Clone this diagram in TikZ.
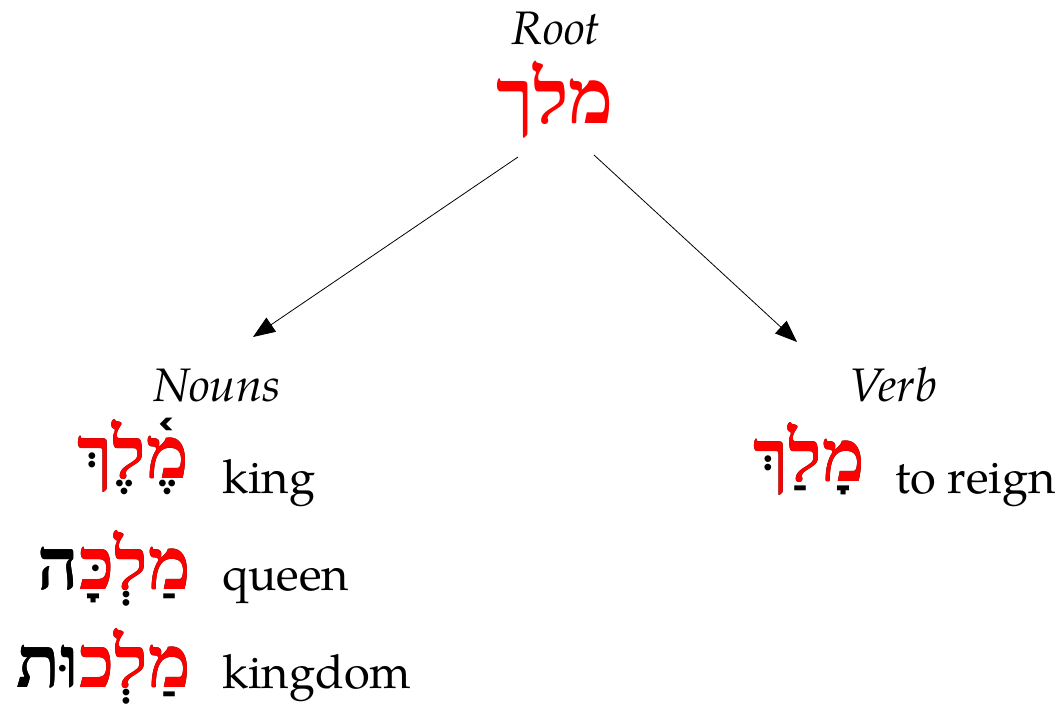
\documentclass[tikz,border=0pt]{standalone}
\usepackage{fontspec}
\setmainfont{TeX Gyre Pagella}
\newfontfamily\hebrewfont[Script=Hebrew]{Liberation Serif}
\usetikzlibrary{arrows.meta}

\tikzset{
  heading/.style={font=\fontsize{47}{50}\selectfont\itshape, anchor=base, inner sep=0pt},
  gloss/.style={font=\fontsize{47}{50}\selectfont, anchor=base west, inner sep=0pt},
  hebword/.style={font=\hebrewfont\bfseries\fontsize{72}{76}\selectfont, anchor=base east, inner sep=0pt},
  branch/.style={line width=0.8pt, -{Triangle[length=22pt,width=17pt]}},
}

% A pointed word: the full word with its vowel points in black,
% then its consonants (root letters in red) laid over it.
\newcommand\pointed[4]{%
  \node[hebword] (#1) at (#2) {#3};
  \node[hebword] at (#2) {#4};
}

\begin{document}
\begin{tikzpicture}[x=1pt,y=-1pt]
\useasboundingbox (0,0) rectangle (1064,717);

% root
\node[heading] (roottitle) at (556,45) {Root};
\node[hebword, anchor=base, text=red, font=\hebrewfont\bfseries\fontsize{76}{80}\selectfont] (root) at (555,123) {מלך};

% categories
\node[heading] (nouns) at (217,401) {Nouns};
\node[heading] (verb) at (893,401) {Verb};

\coordinate (rootL) at (518,157);
\coordinate (rootR) at (594,155);
\coordinate (nounsTop) at (253,337);
\coordinate (verbTop) at (797,342);
\draw[branch] (rootL) -- (nounsTop);
\draw[branch] (rootR) -- (verbTop);

% nouns
\pointed{king}{189,478}{מ^^^^05b6^^^^05abל^^^^05b6ך^^^^05b0}{\textcolor{red}{מלך}}
\node[gloss] (kingtxt) at (222,493) {king};

\pointed{queen}{191,589}{מ^^^^05b7ל^^^^05b0כ^^^^05bc^^^^05b8ה}{ה\textcolor{red}{מלכ}}
\node[gloss] (queentxt) at (222,590) {queen};

\pointed{kingdom}{191,687}{מ^^^^05b7ל^^^^05b0כו^^^^05bcת}{ות\textcolor{red}{מלכ}}
\node[gloss] (kingdomtxt) at (222,688) {kingdom};

% verb
\pointed{reign}{865,481}{מ^^^^05b8ל^^^^05b7ך^^^^05b0}{\textcolor{red}{מלך}}
\node[gloss] (reigntxt) at (895,493) {to reign};
\end{tikzpicture}
\end{document}
